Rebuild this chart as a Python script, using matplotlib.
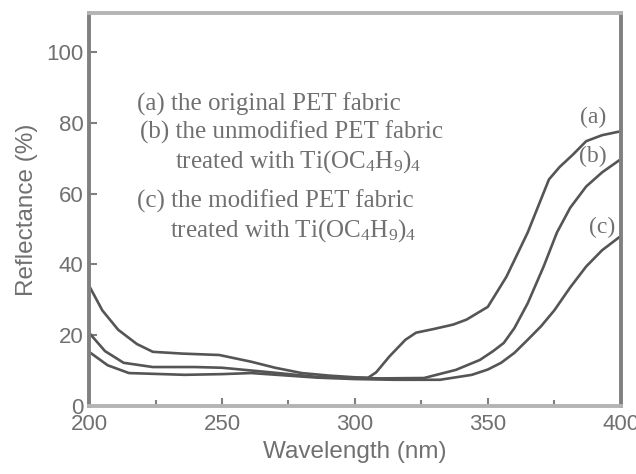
import matplotlib
matplotlib.use("Agg")
import matplotlib.pyplot as plt
from matplotlib.ticker import MultipleLocator

# Data
wl_a = [200, 205, 211, 218, 224, 235, 249, 261, 270, 280, 290, 300, 305, 308, 313, 319, 323, 330, 337, 342, 350, 357, 365, 373, 377, 382, 387, 393, 400]
ref_a = [34, 27, 21.5, 17.5, 15.3, 14.8, 14.4, 12.5, 10.8, 9.3, 8.6, 8.1, 8.0, 9.5, 14, 18.7, 20.7, 21.8, 23, 24.4, 28, 36.5, 49, 64, 67.5, 71, 74.8, 76.5, 77.6]

wl_b = [200, 206, 213, 224, 240, 250, 267, 286, 300, 310, 326, 338, 347, 352, 356, 360, 365, 371, 376, 381, 387, 393, 400]
ref_b = [20.7, 15.5, 12.2, 11, 11, 10.8, 9.6, 8.2, 7.9, 7.8, 7.9, 10.2, 13, 15.5, 17.8, 22, 29, 39.4, 49, 56, 62, 66, 69.7]

wl_c = [200, 207, 215, 236, 250, 261, 286, 300, 315, 332, 344, 350, 355, 360, 365, 370, 375, 381, 387, 393, 400]
ref_c = [15.3, 11.5, 9.3, 8.8, 9.0, 9.3, 8.0, 7.6, 7.4, 7.4, 8.8, 10.3, 12.2, 15, 18.7, 22.5, 27, 33.5, 39.4, 44, 48]

series_labels = ["(a)", "(b)", "(c)"]
legend_lines = [
    "(a) the original PET fabric",
    "(b) the unmodified PET fabric",
    "treated with Ti(OC$_4$H$_9$)$_4$",
    "(c) the modified PET fabric",
    "treated with Ti(OC$_4$H$_9$)$_4$",
]
x_ticks = [200, 250, 300, 350, 400]
y_ticks = [0, 20, 40, 60, 80, 100]

plt.rcParams["mathtext.fontset"] = "custom"
plt.rcParams["mathtext.rm"] = "Liberation Serif"
plt.rcParams["mathtext.it"] = "Liberation Serif:italic"

fig = plt.figure(figsize=(6.36, 4.74), dpi=100)
ax = fig.add_axes([0.14, 0.1435, 0.836, 0.829])

line_color = "#555555"
for wl, r in [(wl_a, ref_a), (wl_b, ref_b), (wl_c, ref_c)]:
    ax.plot(wl, r, color=line_color, lw=1.9)

ax.set_xlim(200, 400)
ax.set_ylim(0, 111)
ax.set_xticks(x_ticks)
ax.set_yticks(y_ticks)
ax.xaxis.set_minor_locator(MultipleLocator(25))

dark_spine = "#808080"
light_spine = "#b4b4b4"
ax.spines["left"].set_color(dark_spine)
ax.spines["right"].set_color(dark_spine)
ax.spines["top"].set_color(light_spine)
ax.spines["bottom"].set_color(light_spine)
for s in ax.spines.values():
    s.set_linewidth(2.8)

text_color = "#707070"
ax.tick_params(axis="both", which="both", direction="in", color=dark_spine,
               labelcolor=text_color, labelsize=16)
ax.tick_params(axis="both", which="major", length=6, width=1.5)
ax.tick_params(axis="both", which="minor", length=4, width=1.5)
ax.tick_params(axis="x", pad=6)
ax.tick_params(axis="y", pad=4)
for lab in ax.get_xticklabels() + ax.get_yticklabels():
    lab.set_fontfamily("Liberation Sans")

ax.set_xlabel("Wavelength (nm)", fontsize=17.5, color=text_color,
              family="Liberation Sans", labelpad=4)
ax.set_ylabel("Reflectance (%)", fontsize=17.5, color=text_color,
              family="Liberation Sans", labelpad=6)

# Annotation text block (baseline positions in figure pixels)
ybase = [111, 139, 168, 208, 237]
xpos = [137, 140, 175, 137, 170]
for t, xp, yp in zip(legend_lines, xpos, ybase):
    fig.text(xp / 636, 1 - yp / 474, t, fontsize=18, color=text_color,
             family="Liberation Serif", va="baseline", ha="left")

# Curve labels
lab_pos = [(389.5, 81.6), (389.5, 70.5), (393, 50.4)]
for t, (x, y) in zip(series_labels, lab_pos):
    ax.text(x, y, t, fontsize=17, color=text_color, family="Liberation Serif",
            ha="center", va="center")

fig.savefig("out.png", dpi=100, facecolor="white")
